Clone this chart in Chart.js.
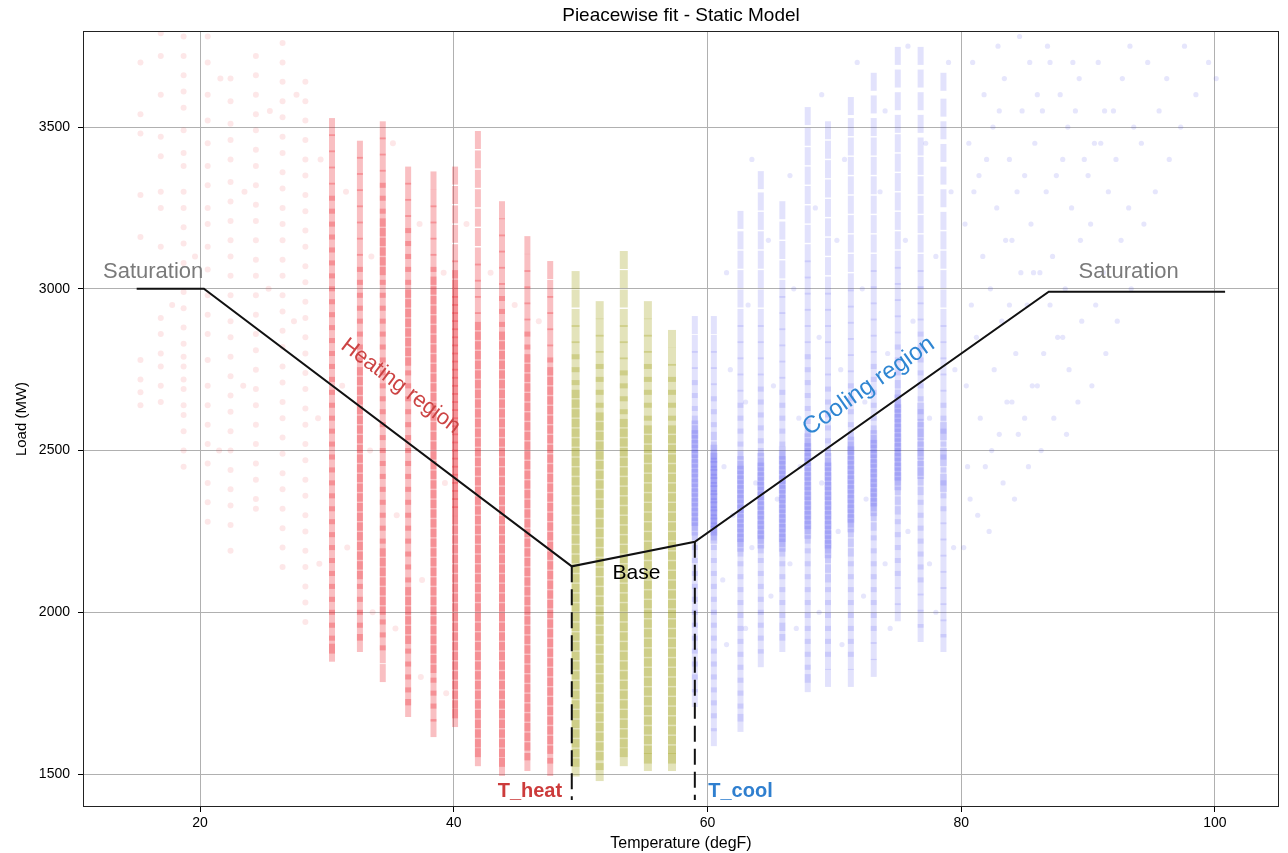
<!DOCTYPE html>
<html>
<head>
<meta charset="utf-8">
<script src="https://cdn.jsdelivr.net/npm/chart.js@4.4.1/dist/chart.umd.min.js"></script>
<style>
html,body{margin:0;padding:0;background:#fff;overflow:hidden;}
#wrap{width:1288px;height:853px;position:relative;overflow:hidden;}
</style>
</head>
<body>
<div id="wrap"><canvas id="c" width="1296" height="853"></canvas></div>
<script>
// ---------------- DATA ----------------
const chartTitle = 'Pieacewise fit - Static Model';
const xTicks = [20, 40, 60, 80, 100];
const yTicks = [1500, 2000, 2500, 3000, 3500];

// Heating region: sparse dotted columns (temperature, degF)
const heatDotTemps = [15.3, 16.9, 18.7, 20.6, 22.4, 24.4, 26.5, 28.3];
const heatDotLoads = [
  [3700, 3540, 3480, 3290, 3160, 2780, 2720, 2680, 2640],
  [3790, 3720, 3600, 3470, 3410, 3300, 3250, 3130, 2910, 2860, 2800, 2760, 2700, 2650],
  [3780, 3720, 3660, 3610, 3560, 3490, 3420, 3380, 3300, 3250, 3190, 3140, 3080, 2990, 2940, 2880, 2830, 2790, 2760, 2720, 2690, 2640, 2610, 2560, 2500, 2450],
  [3780, 3700, 3600, 3520, 3450, 3380, 3320, 3250, 3200, 3130, 3060, 2980, 2920, 2860, 2780, 2700, 2640, 2580, 2520, 2460, 2400, 2340, 2280],
  [3650, 3580, 3510, 3460, 3400, 3330, 3270, 3210, 3150, 3100, 3040, 2980, 2900, 2850, 2790, 2730, 2670, 2620, 2560, 2500, 2440, 2380, 2330, 2270, 2190],
  [3720, 3660, 3600, 3540, 3490, 3430, 3380, 3320, 3260, 3210, 3150, 3090, 3040, 2980, 2920, 2860, 2810, 2750, 2690, 2640, 2580, 2520, 2460, 2410, 2350, 2320],
  [3760, 3700, 3640, 3580, 3530, 3470, 3420, 3360, 3310, 3250, 3200, 3150, 3090, 3040, 2980, 2930, 2870, 2820, 2760, 2710, 2650, 2600, 2540, 2490, 2430, 2380, 2320, 2260, 2200, 2140],
  [3640, 3580, 3520, 3460, 3400, 3350, 3290, 3240, 3180, 3130, 3070, 3020, 2960, 2910, 2850, 2800, 2740, 2690, 2630, 2580, 2520, 2470, 2410, 2360, 2300, 2250, 2190, 2140, 2080, 2030, 1970]
];

// Heating region: dense striped columns
const heatTemps = [30.4, 32.6, 34.4, 36.4, 38.4, 40.1, 41.9, 43.8, 45.8, 47.6];
const heatLoads = [
  [3500,3450,3400,3350,3300,3260,3220,3180,3140,3100,3060,3020,2980,2940,2900,2860,2820,2780,2740,2700,2660,2620,2580,2540,2500,2460,2420,2380,2340,2300,2260,2220,2180,2140,2100,2060,2020,1980,1940,1900,1875],
  [3430,3380,3330,3280,3230,3180,3130,3080,3040,3000,2960,2920,2880,2840,2800,2760,2730,2700,2670,2640,2610,2580,2550,2520,2490,2460,2430,2400,2370,2340,2310,2280,2250,2220,2190,2160,2130,2100,2060,2020,1980,1940,1905],
  [3490,3440,3390,3340,3300,3260,3220,3190,3160,3130,3100,3070,3040,3000,2960,2920,2880,2840,2800,2760,2720,2680,2640,2600,2560,2520,2480,2440,2400,2360,2320,2280,2240,2200,2170,2140,2110,2080,2050,2020,1990,1950,1910,1870,1812],
  [3350,3300,3250,3200,3160,3120,3080,3040,3000,2970,2940,2910,2880,2850,2820,2790,2760,2720,2680,2640,2600,2560,2520,2480,2440,2400,2360,2320,2280,2240,2200,2160,2120,2080,2050,2020,1990,1960,1930,1900,1860,1820,1780,1740,1704],
  [3335,3280,3230,3180,3130,3080,3040,3010,2980,2950,2920,2890,2860,2830,2800,2770,2740,2710,2680,2650,2620,2590,2560,2530,2500,2470,2440,2410,2380,2350,2320,2290,2260,2230,2200,2170,2140,2110,2080,2050,2020,1990,1960,1930,1900,1870,1840,1810,1770,1730,1690,1642],
  [3350,3290,3230,3170,3110,3060,3030,3000,2975,2950,2925,2900,2875,2850,2825,2800,2775,2750,2725,2700,2675,2650,2625,2600,2575,2550,2525,2500,2475,2450,2425,2400,2375,2350,2325,2300,2270,2240,2210,2180,2150,2120,2090,2060,2030,2000,1970,1940,1910,1880,1850,1820,1790,1760,1730,1700,1673],
  [3460,3400,3340,3280,3220,3160,3100,3050,3000,2950,2900,2870,2840,2810,2780,2750,2720,2690,2660,2630,2600,2570,2540,2510,2480,2450,2420,2390,2360,2330,2300,2270,2240,2210,2180,2150,2120,2090,2060,2030,2000,1970,1940,1910,1880,1850,1820,1790,1760,1730,1700,1670,1640,1610,1580,1552],
  [3243,3190,3140,3090,3040,2990,2950,2910,2870,2840,2810,2780,2750,2720,2690,2660,2630,2600,2570,2540,2510,2480,2450,2420,2390,2360,2330,2300,2270,2240,2210,2180,2150,2120,2090,2060,2030,2000,1970,1940,1910,1880,1850,1820,1790,1760,1730,1700,1670,1640,1610,1580,1550,1522],
  [3135,3080,3030,2980,2930,2880,2840,2800,2770,2740,2710,2680,2650,2620,2590,2560,2530,2500,2470,2440,2410,2380,2350,2320,2290,2260,2230,2200,2170,2140,2110,2080,2050,2020,1990,1960,1930,1900,1870,1840,1810,1780,1750,1720,1690,1660,1630,1600,1570,1537],
  [3058,3000,2950,2900,2850,2800,2760,2730,2700,2670,2640,2610,2580,2550,2520,2490,2460,2430,2400,2370,2340,2310,2280,2250,2220,2190,2160,2130,2100,2070,2040,2010,1980,1950,1920,1890,1860,1830,1800,1770,1740,1710,1680,1650,1620,1590,1560,1522]
];

// Heating region: scattered points between columns [temp, load]
const heatScatter = [
  [31.5,3300],[33.5,3100],[35.2,3450],[37.3,3200],[39.2,3050],[31.2,2700],[33.4,2500],[35.5,2300],
  [37.5,2100],[39.3,2400],[29.3,2600],[27.4,2900],[25.4,3000],[23.4,2700],[21.5,2500],[29.5,3400],
  [27.6,3600],[25.5,3550],[23.5,3300],[21.6,3650],[19.6,3100],[17.8,2950],[31.6,2200],[33.6,2000],
  [35.4,1950],[37.4,1800],[39.4,1750],[41.0,3200],[42.9,3050],[44.8,2950],[46.7,2900],[29.4,2150]
];

// Base region (between T_heat and T_cool)
const baseTemps = [49.6, 51.5, 53.4, 55.3, 57.2];
const baseLoads = [
  [3027,2970,2910,2860,2810,2770,2730,2690,2660,2630,2600,2570,2540,2510,2480,2450,2420,2390,2360,2330,2300,2270,2240,2210,2180,2150,2120,2090,2060,2030,2000,1970,1940,1910,1880,1850,1820,1790,1760,1730,1700,1670,1640,1610,1580,1550,1520],
  [2934,2880,2830,2780,2740,2700,2660,2620,2590,2560,2530,2500,2470,2440,2410,2380,2350,2320,2290,2260,2230,2200,2170,2140,2110,2080,2050,2020,1990,1960,1930,1900,1870,1840,1810,1780,1750,1720,1690,1660,1630,1600,1570,1540,1506],
  [3089,3030,2970,2910,2860,2810,2760,2720,2680,2640,2600,2570,2540,2510,2480,2450,2420,2390,2360,2330,2300,2270,2240,2210,2180,2150,2120,2090,2060,2030,2000,1970,1940,1910,1880,1850,1820,1790,1760,1730,1700,1670,1640,1610,1580,1552],
  [2934,2880,2830,2780,2740,2700,2660,2620,2580,2550,2520,2490,2460,2430,2400,2370,2340,2310,2280,2250,2220,2190,2160,2130,2100,2070,2040,2010,1980,1950,1920,1890,1860,1830,1800,1770,1740,1710,1680,1650,1620,1590,1560,1537],
  [2845,2790,2740,2700,2660,2620,2580,2550,2520,2490,2460,2430,2400,2370,2340,2310,2280,2250,2220,2190,2160,2130,2100,2070,2040,2010,1980,1950,1920,1890,1860,1830,1800,1770,1740,1710,1680,1650,1620,1590,1560,1537]
];

// Cooling region: striped columns
const coolTemps = [59.0, 60.5, 62.6, 64.2, 65.9, 67.9, 69.5, 71.3, 73.1, 75.0, 76.8, 78.6];
const coolLoads = [
  [2888,2830,2780,2730,2690,2650,2610,2580,2550,2520,2490,2460,2430,2400,2370,2340,2310,2280,2250,2220,2180,2140,2100,2060,2020,1980,1940,1900,1860,1820,1780,1735],
  [2888,2830,2780,2730,2680,2640,2600,2560,2530,2500,2475,2450,2425,2400,2375,2350,2325,2300,2275,2250,2220,2180,2140,2100,2060,2020,1980,1940,1900,1860,1820,1780,1740,1700,1660,1614],
  [3213,3150,3090,3030,2970,2910,2860,2810,2760,2710,2660,2620,2580,2540,2500,2470,2440,2410,2380,2350,2320,2290,2260,2230,2200,2170,2130,2090,2050,2010,1970,1930,1890,1850,1810,1770,1730,1690,1658],
  [3336,3270,3210,3150,3090,3030,2970,2910,2860,2810,2760,2710,2670,2630,2590,2550,2510,2480,2450,2420,2390,2360,2330,2300,2270,2240,2210,2180,2140,2100,2060,2020,1980,1940,1900,1858],
  [3243,3180,3120,3060,3000,2950,2900,2850,2800,2750,2700,2660,2620,2580,2540,2500,2470,2440,2410,2380,2350,2320,2290,2260,2230,2200,2170,2130,2090,2050,2010,1970,1940,1905],
  [3534,3470,3410,3350,3290,3230,3170,3110,3060,3010,2960,2910,2860,2810,2770,2730,2690,2650,2610,2570,2540,2510,2480,2450,2420,2390,2360,2330,2300,2270,2240,2210,2170,2130,2090,2050,2010,1970,1930,1890,1850,1810,1781],
  [3490,3430,3370,3310,3250,3190,3130,3070,3010,2960,2910,2860,2810,2760,2710,2670,2630,2590,2550,2510,2480,2450,2420,2390,2360,2330,2300,2270,2240,2210,2180,2150,2120,2090,2050,2010,1970,1930,1890,1850,1797],
  [3565,3500,3440,3380,3320,3260,3200,3140,3080,3020,2970,2920,2870,2820,2770,2720,2680,2640,2600,2560,2530,2500,2470,2440,2410,2380,2350,2320,2290,2260,2230,2200,2170,2130,2090,2050,2010,1970,1930,1890,1850,1797],
  [3640,3570,3500,3440,3380,3320,3260,3200,3140,3080,3030,2980,2930,2880,2830,2780,2740,2700,2660,2620,2580,2550,2520,2490,2460,2430,2400,2370,2340,2310,2280,2250,2210,2170,2130,2090,2050,2010,1970,1930,1880,1828],
  [3720,3650,3580,3510,3450,3390,3330,3270,3210,3150,3090,3040,2990,2940,2890,2840,2800,2760,2720,2690,2660,2630,2600,2570,2540,2510,2480,2450,2420,2390,2360,2330,2300,2260,2220,2180,2140,2100,2050,2000],
  [3720,3650,3580,3510,3440,3380,3320,3260,3200,3140,3080,3030,2980,2930,2880,2840,2800,2760,2720,2680,2640,2600,2570,2540,2510,2480,2450,2420,2390,2360,2320,2280,2240,2200,2160,2120,2080,2030,1980,1936],
  [3640,3560,3490,3420,3350,3280,3210,3150,3090,3030,2970,2910,2860,2810,2760,2710,2660,2620,2580,2540,2500,2460,2420,2380,2340,2300,2250,2200,2150,2100,2050,2000,1950,1905]
];
// Cooling region: extra points in the dense core of each column
const coolCoreLoads = [
  [2565,2535,2505,2475,2445,2415,2385,2355,2325,2295,2265],
  [2490,2465,2440,2415,2390,2365,2340,2315,2290,2265,2240],
  [2455,2425,2395,2365,2335,2305,2275,2245,2215],
  [2465,2435,2405,2375,2345,2315,2285,2255,2225],
  [2485,2455,2425,2395,2365,2335,2305,2275,2245,2215],
  [2525,2495,2465,2435,2405,2375,2345,2315,2285,2255],
  [2465,2435,2405,2375,2345,2315,2285,2255,2225,2195],
  [2515,2485,2455,2425,2395,2365,2335,2305,2275],
  [2535,2505,2475,2445,2415,2385,2355,2325],
  [2645,2615,2585,2555,2525,2495,2465,2435,2405],
  [2620,2560,2500,2440],
  [2560,2480,2400]
];

// Cooling region: scattered points [temp, load]
const coolScatter = [
  [61.5,3050],[61.8,2750],[63.2,2950],[63.5,3400],[63.0,2650],[64.8,3150],[65.2,2700],[66.5,3350],
  [66.8,3000],[67.2,2600],[68.5,3250],[68.8,2850],[69.0,3600],[70.2,3150],[70.5,2750],[70.8,3400],
  [71.8,3700],[72.2,3000],[72.4,2650],[73.6,3300],[74.0,3550],[74.2,2800],[75.6,3150],[75.8,3750],
  [76.2,2900],[77.2,3450],[77.5,2600],[78.0,3100],[79.2,3300],[79.5,2750],[79.0,3700],
  [61.2,2100],[61.5,1900],[63.0,1950],[63.5,2200],[65.0,2050],[66.5,2150],[67.0,1950],[68.8,2000],
  [70.3,2250],[70.6,1900],[72.3,2050],[72.5,2350],[74.0,2150],[74.4,1950],[75.8,2250],[77.5,2150],
  [78.0,2000],[79.4,2200],[61.3,2450],[62.0,2300],[63.8,2400],[65.5,2350],[67.3,2450],[69.0,2400],
  [80.2,2200],[80.5,2450],[80.4,2700],[80.8,2950],[80.3,3200],[80.6,3450],[80.9,3700],[81.3,2300],
  [81.5,2600],[81.2,2850],[81.7,3100],[81.4,3350],[81.8,3600],[82.2,2250],[82.4,2500],[82.6,2750],
  [82.3,3000],[82.8,3250],[82.5,3500],[82.9,3750],[83.3,2400],[83.6,2650],[83.2,2900],[83.5,3150],
  [83.8,3400],[83.4,3650],[84.2,2350],[84.5,2550],[84.3,2800],[84.7,3050],[84.4,3300],[84.8,3550],
  [84.6,3780],[85.3,2450],[85.6,2700],[85.2,2950],[85.5,3200],[85.8,3450],[85.4,3700],[86.3,2500],
  [86.5,2800],[86.2,3050],[86.7,3300],[86.4,3550],[86.8,3750],[87.3,2600],[87.6,2850],[87.2,3100],
  [87.5,3350],[87.8,3600],[88.3,2550],[88.5,2750],[88.2,3000],[88.7,3250],[88.4,3500],[88.8,3700],
  [89.2,2650],[89.5,2900],[89.4,3150],[89.7,3400],[89.3,3650],[90.3,2700],[90.6,2950],[90.2,3200],
  [90.5,3450],[90.8,3700],[91.4,2800],[91.2,3050],[91.6,3300],[91.3,3550],[92.3,2900],[92.6,3150],
  [92.2,3400],[92.7,3650],[93.4,3000],[93.2,3250],[93.6,3500],[93.3,3750],[94.4,3200],[94.2,3450],
  [94.7,3700],[95.3,3300],[95.6,3550],[96.4,3400],[96.2,3650],[97.3,3500],[97.6,3750],[98.5,3600],
  [99.5,3700],[100.1,3650],[80.7,2350],[81.9,2450],[83.0,2550],[84.0,2650],[85.0,2600],[86.0,2700],
  [87.0,2950],[88.0,2850],[81.0,3300],[82.0,3400],[83.0,3550],[84.0,3150],[85.0,3350],[86.0,3600],
  [87.0,3700],[88.0,3400],[89.0,3550],[90.0,3350],[91.0,3450],[92.0,3550],[85.7,3050],[83.8,2950]
];

// Piecewise fit (static model)
const fitTemps = [15.0, 20.3, 49.3, 59.0, 86.9, 100.8];
const fitLoads = [3000, 3000, 2142, 2218, 2991, 2991];
// Thresholds
const tHeat = 49.3;
const tCool = 59.0;
const thresholdLoads = [2142, 2218];
const thresholdBottom = 1420;

// ---------------- build points ----------------
function columnsToPoints(temps, loads) {
  const pts = [];
  temps.forEach((t, i) => loads[i].forEach(v => pts.push({x: t, y: v})));
  return pts;
}
function pairsToPoints(pairs) { return pairs.map(p => ({x: p[0], y: p[1]})); }

const FONT = "'Liberation Sans', Arial, sans-serif";

const annotations = [
  {text: 'Saturation', x: 16.3, y: 3052, color: '#7a7a7a', size: 22, weight: 'normal', rot: 0},
  {text: 'Saturation', x: 93.2, y: 3052, color: '#7a7a7a', size: 22, weight: 'normal', rot: 0},
  {text: 'Heating region', x: 35.8, y: 2699, color: '#cc4444', size: 22, weight: 'normal', rot: 37},
  {text: 'Cooling region', x: 72.7, y: 2699, color: '#2f86d2', size: 24, weight: 'normal', rot: -35},
  {text: 'Base', x: 54.4, y: 2121, color: '#000000', size: 21, weight: 'normal', rot: 0},
  {text: 'T_heat', x: 46.0, y: 1447, color: '#cc3b3b', size: 20, weight: 'bold', rot: 0},
  {text: 'T_cool', x: 62.6, y: 1447, color: '#2f7fcf', size: 20, weight: 'bold', rot: 0}
];

const overlayPlugin = {
  id: 'overlay',
  afterDatasetsDraw(chart) {
    const {ctx, scales} = chart;
    ctx.save();
    ctx.textAlign = 'center';
    ctx.textBaseline = 'middle';
    annotations.forEach(a => {
      const px = scales.x.getPixelForValue(a.x);
      const py = scales.y.getPixelForValue(a.y);
      ctx.save();
      ctx.translate(px, py);
      ctx.rotate(a.rot * Math.PI / 180);
      ctx.font = a.weight + ' ' + a.size + 'px ' + FONT;
      ctx.fillStyle = a.color;
      ctx.fillText(a.text, 0, 0);
      ctx.restore();
    });
    ctx.restore();
  },
  afterDraw(chart) {
    const {ctx, chartArea} = chart;
    ctx.save();
    ctx.strokeStyle = '#222';
    ctx.lineWidth = 1;
    ctx.strokeRect(Math.round(chartArea.left) + 0.5, Math.round(chartArea.top) + 0.5,
      Math.round(chartArea.right - chartArea.left) - 1, Math.round(chartArea.bottom - chartArea.top) - 1);
    // title centred over the plot area
    ctx.fillStyle = '#000';
    ctx.font = 'normal 19px ' + FONT;
    ctx.textAlign = 'center';
    ctx.textBaseline = 'middle';
    ctx.fillText(chartTitle, (chartArea.left + chartArea.right) / 2, 16);
    ctx.restore();
  }
};

const stripe = (color, width) => ({
  pointStyle: 'line', rotation: 90, pointRadius: 9, pointBorderWidth: width,
  pointBorderColor: color, pointBackgroundColor: color, showLine: false, order: 10
});
const dots = (fill, r) => ({
  pointStyle: 'circle', pointRadius: r || 3, pointBorderWidth: 0,
  pointBackgroundColor: fill, pointBorderColor: 'rgba(0,0,0,0)', showLine: false, order: 10
});

const datasets = [
  Object.assign({label: 'heat dots', data: columnsToPoints(heatDotTemps, heatDotLoads)}, dots('rgba(240,40,50,0.11)')),
  Object.assign({label: 'heat scatter', data: pairsToPoints(heatScatter)}, dots('rgba(240,40,50,0.11)')),
  Object.assign({label: 'heat', data: columnsToPoints(heatTemps, heatLoads)}, stripe('rgba(232,20,30,0.27)', 6)),
  Object.assign({label: 'base', data: columnsToPoints(baseTemps, baseLoads)}, stripe('rgba(150,150,0,0.27)', 8)),
  Object.assign({label: 'cool', data: columnsToPoints(coolTemps, coolLoads)}, stripe('rgba(50,50,235,0.14)', 6)),
  Object.assign({label: 'cool core', data: columnsToPoints(coolTemps, coolCoreLoads)}, stripe('rgba(50,50,235,0.14)', 7)),
  Object.assign({label: 'cool scatter', data: pairsToPoints(coolScatter)}, dots('rgba(60,60,235,0.13)', 2.6)),
  {
    label: 'fit', type: 'line', data: fitTemps.map((t, i) => ({x: t, y: fitLoads[i]})),
    borderColor: '#111', borderWidth: 2, pointRadius: 0, fill: false, tension: 0, order: 1
  },
  {
    label: 'T_heat line', type: 'line', data: [{x: tHeat, y: thresholdLoads[0]}, {x: tHeat, y: thresholdBottom}],
    borderColor: '#111', borderWidth: 2, borderDash: [16, 7], pointRadius: 0, fill: false, order: 1
  },
  {
    label: 'T_cool line', type: 'line', data: [{x: tCool, y: thresholdLoads[1]}, {x: tCool, y: thresholdBottom}],
    borderColor: '#111', borderWidth: 2, borderDash: [16, 7], pointRadius: 0, fill: false, order: 1
  }
];

new Chart(document.getElementById('c'), {
  type: 'scatter',
  data: {datasets},
  plugins: [overlayPlugin],
  options: {
    responsive: false,
    animation: false,
    events: [],
    layout: {padding: {left: 0, right: 2, top: 31, bottom: 0}},
    plugins: {
      legend: {display: false},
      tooltip: {enabled: false},
      title: {display: false}
    },
    scales: {
      x: {
        type: 'linear', min: 10.77, max: 105.05,
        afterBuildTicks: s => { s.ticks = xTicks.map(v => ({value: v})); },
        afterFit: s => { s.height = 46; s.paddingRight = 0; s.paddingLeft = 0; },
        grid: {color: '#b0b0b0', lineWidth: 1, tickColor: '#000', tickLength: 5, drawTicks: true},
        border: {display: false},
        ticks: {color: '#000', font: {family: FONT, size: 14}, padding: 3, autoSkip: false, maxRotation: 0,
                callback: v => String(v)},
        title: {display: true, text: 'Temperature (degF)', color: '#000', font: {family: FONT, size: 16}, padding: {top: 0, bottom: 0}}
      },
      y: {
        type: 'linear', min: 1398, max: 3797,
        afterBuildTicks: s => { s.ticks = yTicks.map(v => ({value: v})); },
        afterFit: s => { s.width = 83; s.paddingTop = 0; s.paddingBottom = 0; },
        grid: {color: '#b0b0b0', lineWidth: 1, tickColor: '#000', tickLength: 5, drawTicks: true},
        border: {display: false},
        ticks: {color: '#000', font: {family: FONT, size: 14}, padding: 8, callback: v => String(v)},
        title: {display: true, text: 'Load (MW)', color: '#000', font: {family: FONT, size: 15}, padding: {top: 13, bottom: 0}}
      }
    }
  }
});
</script>
</body>
</html>
